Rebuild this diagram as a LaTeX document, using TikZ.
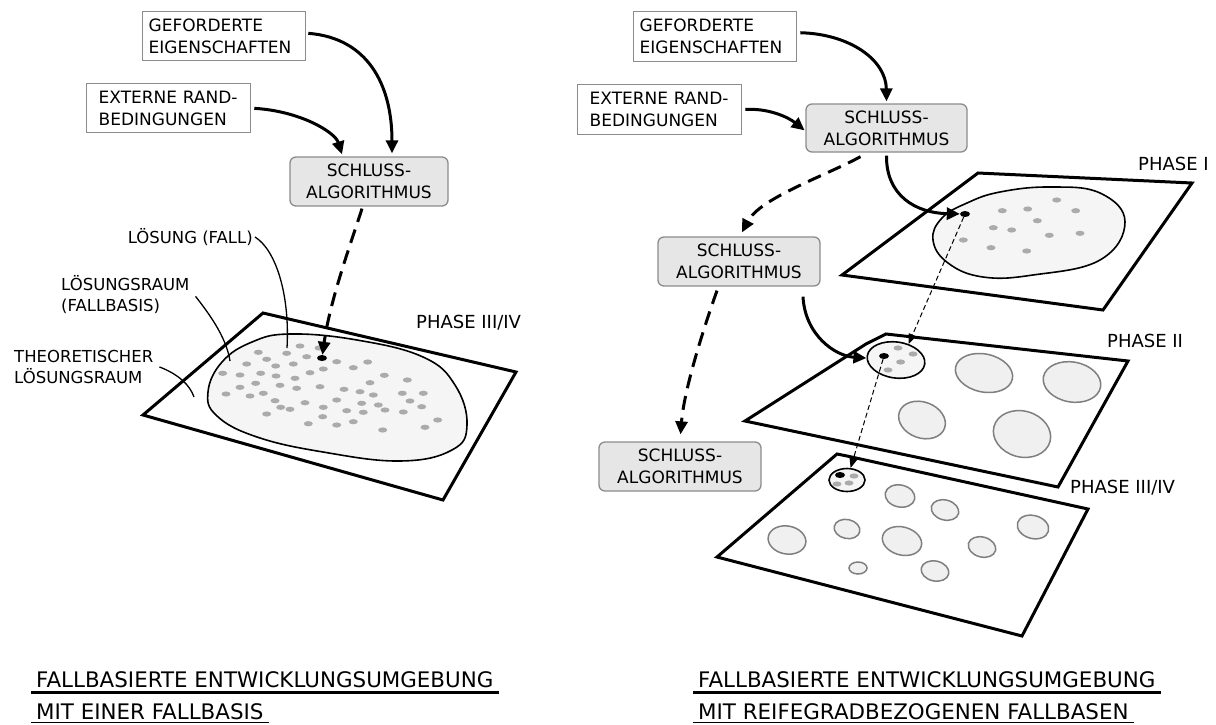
\documentclass[tikz,border=0pt]{standalone}
\usepackage{fontspec}
\setmainfont{DejaVu Sans}
\usetikzlibrary{arrows.meta,shapes.geometric}

\definecolor{boxline}{HTML}{8C8C8C}
\definecolor{algofill}{HTML}{E6E6E6}
\definecolor{spacefill}{HTML}{F5F5F5}
\definecolor{casedot}{HTML}{ABABAB}
\definecolor{subline}{HTML}{7F7F7F}
\definecolor{subfill}{HTML}{F0F0F0}

\tikzset{
  inbox/.style={draw=boxline, line width=1.3pt, fill=white, align=left,
    font=\fontsize{17}{22}\selectfont, minimum height=49pt, inner ysep=0pt},
  algo/.style={draw=boxline, line width=1.3pt, fill=algofill, rounded corners=6pt,
    align=center, font=\fontsize{17}{22}\selectfont, minimum width=161pt,
    minimum height=49pt, inner sep=0pt},
  lbltext/.style={align=left, font=\fontsize{16.5}{21}\selectfont, inner sep=0pt},
  phasetext/.style={font=\fontsize{18}{22}\selectfont, inner sep=0pt},
  headline/.style={font=\fontsize{21.4}{26}\selectfont, inner xsep=5pt, inner ysep=0pt},
  sheet/.style={draw=black, line width=3pt, line join=miter, fill=white},
  spaceblob/.style={draw=black, line width=1.6pt, fill=spacefill},
  subspace/.style={draw=subline, line width=1.5pt, fill=subfill},
  subnode/.style={ellipse, draw=black, line width=1.6pt, fill=spacefill, inner sep=0pt},
  hitdot/.style={ellipse, fill=black, inner sep=0pt, minimum width=10pt, minimum height=6pt},
  flowarrow/.style={line width=3pt, -{Triangle[length=13pt,width=12pt]}},
  derivearrow/.style={flowarrow, dash pattern=on 14pt off 8pt},
  tracearrow/.style={line width=1pt, dash pattern=on 5pt off 3pt, -{Triangle[length=10pt,width=8pt]}},
  leader/.style={line width=1.3pt},
  casemark/.style={fill=casedot},
}

\begin{document}
\begin{tikzpicture}[x=1pt,y=-1pt]
\useasboundingbox (0,0) rectangle (1216,724);
\fill[white] (0,0) rectangle (1216,724);

% ===================== left: one case base =====================
\node[inbox, text width=151pt, inner xsep=6pt, anchor=north west] (gefL) at (142,11) {GEFORDERTE\\EIGENSCHAFTEN};
\node[inbox, text width=140pt, inner xsep=12pt, anchor=north west] (extL) at (86,83) {EXTERNE RAND-\\BEDINGUNGEN};
\node[algo, minimum width=158pt] (algoL) at (369,181.5) {SCHLUSS-\\ALGORITHMUS};

% solution space sheet
\draw[sheet] (143,415) -- (263,313) -- (516,372) -- (443,500) -- cycle;
\draw[spaceblob] plot[smooth cycle, tension=0.7] coordinates {
  (208,392) (222,362) (252,342) (290,334) (357,340) (423,357) (455,385)
  (467,425) (452,450) (400,461) (323,452) (257,437) (217,416)};
\foreach \p in {(258.3,352.3),(286.7,353.3),(300,346),(306.7,356.7),(266.7,359.3),
  (246.7,364),(275.7,366),(293.3,364),(336.7,361.7),(353.3,367.7),(367.7,362),
  (222.7,373.3),(240,375),(260.7,373.3),(276,376),(295,378.3),(310,372.7),
  (323.3,369),(384.3,375.3),(407.3,380),(255.7,383.3),(240,387.3),(280,385.3),
  (296.7,388.3),(320,386.7),(370,382.7),(226,394),(250,396),(263.3,393.3),
  (275,400.7),(305,402.7),(280.7,407.3),(290,409.3),(323.3,407.3),(336.7,400),
  (344,389.3),(360,391.7),(373.3,395),(402.3,393.3),(423.3,393.3),(410,401),
  (421.7,406.7),(361.7,403.3),(378.3,405),(385,410),(346.7,410.7),(363.3,412.3),
  (403.3,412),(266.7,414),(322.7,416.7),(308.3,423.7),(336.7,425),(353.3,421.7),
  (382.7,430),(425,427.3),(437.7,420),(319,348)}
  \fill[casemark] \p ellipse [x radius=4.5pt, y radius=2.6pt];
\node[hitdot] (hitL) at (322,358) {};

\node[phasetext, anchor=base west] (phL) at (416,328) {PHASE III/IV};

% annotations
\node[lbltext, anchor=east] (lblCase) at (253,237) {LÖSUNG (FALL)};
\coordinate (caseEnd) at (287,348);
\draw[leader] ([xshift=2pt]lblCase.east) .. controls (276,250) and (290,295) .. (caseEnd);

\node[lbltext, anchor=north west] (lblBase) at (61,275) {LÖSUNGSRAUM\\(FALLBASIS)};
\coordinate (baseEnd) at (230,361);
\draw[leader] ([xshift=6pt,yshift=-2pt]lblBase.east) .. controls (206,310) and (226,335) .. (baseEnd);

\node[lbltext, anchor=north west] (lblTheo) at (14,350) {THEORETISCHER\\LÖSUNGSRAUM};
\coordinate (theoEnd) at (194,397);
\draw[leader] ([xshift=6pt,yshift=0pt]lblTheo.east) .. controls (178,374) and (190,385) .. (theoEnd);

% flows into and out of the inference step
\draw[flowarrow, shorten <=2pt] ([yshift=3pt]gefL.east) .. controls (368,38) and (392,85) .. ([xshift=23pt,yshift=3pt]algoL.north);
\draw[flowarrow, shorten <=3pt] (extL.east) .. controls (300,111) and (335,132) .. ([xshift=-27pt,yshift=2pt]algoL.north);
\draw[derivearrow] ([xshift=-7pt,yshift=-2pt]algoL.south) .. controls (352,240) and (330,300) .. (hitL);

% ===================== right: maturity-based case bases =====================
\node[inbox, text width=151pt, inner xsep=6pt, anchor=north west, minimum height=50pt] (gefR) at (633,11) {GEFORDERTE\\EIGENSCHAFTEN};
\node[inbox, text width=140pt, inner xsep=12pt, anchor=north west, minimum height=50pt] (extR) at (577,84) {EXTERNE RAND-\\BEDINGUNGEN};
\node[algo, minimum height=48pt] (algoT) at (886.5,128) {SCHLUSS-\\ALGORITHMUS};
\node[algo, minimum width=162pt] (algoM) at (739,261.5) {SCHLUSS-\\ALGORITHMUS};
\node[algo, minimum width=162pt] (algoB) at (680,466.5) {SCHLUSS-\\ALGORITHMUS};

% phase I
\draw[sheet] (842,275) -- (978,173) -- (1192,183) -- (1103,310) -- cycle;
\draw[spaceblob] plot[smooth cycle, tension=0.7] coordinates {
  (933,240) (942,218) (967,203) (1000,192) (1050,187) (1100,193) (1125,222)
  (1100,260) (1033,275) (983,277) (948,263)};
\foreach \p in {(1056.7,200),(1002.3,210.7),(1027.7,209),(1075.7,210.7),(1037.3,220.7),
  (993.3,227.7),(1011.7,230),(1049.3,235.3),(1080,233.3),(963.3,240),(991,247.7),(1026.7,251)}
  \fill[casemark] \p ellipse [x radius=4.5pt, y radius=2.6pt];
\node[hitdot] (hitI) at (965,214) {};
\node[phasetext, anchor=base west] (phI) at (1138,170) {PHASE I};

% phase II
\draw[sheet] (745,421) -- (866,344) -- (886,334) -- (1128,361) -- (1058,487) -- cycle;
\node[subnode, minimum width=58pt, minimum height=36pt, rotate=-8] (blobII) at (896,360) {};
\foreach \p in {(898,348),(913,354),(900.6,362),(888,370)}
  \fill[casemark] \p ellipse [x radius=4.5pt, y radius=2.6pt];
\node[hitdot] (hitII) at (884,356) {};
\draw[subspace, rotate around={-12:(984,373)}] (984,373) ellipse [x radius=29pt, y radius=19pt];
\draw[subspace, rotate around={-10:(1072,382)}] (1072,382) ellipse [x radius=29pt, y radius=20pt];
\draw[subspace, rotate around={-20:(922,420)}] (922,420) ellipse [x radius=24pt, y radius=18pt];
\draw[subspace, rotate around={-15:(1022,434)}] (1022,434) ellipse [x radius=29pt, y radius=23pt];
\node[phasetext, anchor=base west] (phII) at (1107,347) {PHASE II};

% phase III/IV
\draw[sheet] (717,557) -- (837,454) -- (847,456) -- (1088,509) -- (1022,636) -- cycle;
\node[subnode, minimum width=36pt, minimum height=23pt] (blobIII) at (847,480) {};
\foreach \p in {(854,476),(837,484),(849,483)}
  \fill[casemark] \p ellipse [x radius=4.5pt, y radius=2.6pt];
\node[hitdot] (hitIII) at (840,475) {};
\draw[subspace, rotate around={-12:(900,496)}] (900,496) ellipse [x radius=15pt, y radius=11pt];
\draw[subspace, rotate around={-15:(945,510)}] (945,510) ellipse [x radius=14pt, y radius=10pt];
\draw[subspace, rotate around={-15:(1033,527)}] (1033,527) ellipse [x radius=16pt, y radius=11.5pt];
\draw[subspace, rotate around={-10:(787,540)}] (787,540) ellipse [x radius=19pt, y radius=14pt];
\draw[subspace, rotate around={-12:(847,529)}] (847,529) ellipse [x radius=13pt, y radius=9.5pt];
\draw[subspace, rotate around={-15:(902,541)}] (902,541) ellipse [x radius=20pt, y radius=14pt];
\draw[subspace, rotate around={-15:(982,547)}] (982,547) ellipse [x radius=14pt, y radius=10pt];
\draw[subspace] (858,568) ellipse [x radius=9pt, y radius=6pt];
\draw[subspace, rotate around={-12:(935,571)}] (935,571) ellipse [x radius=14pt, y radius=10pt];
\node[phasetext, anchor=base west] (phIII) at (1070,493) {PHASE III/IV};

% flows
\draw[flowarrow, shorten <=3pt] ([yshift=4pt]gefR.east) .. controls (850,34) and (886,60) .. ([yshift=2pt]algoT.north);
\draw[flowarrow, shorten <=3pt, shorten >=1pt] (extR.east) .. controls (768,108) and (788,117) .. ([yshift=-3pt]algoT.west);
\draw[derivearrow] ([xshift=-26pt,yshift=-4pt]algoT.south) .. controls (825,176) and (760,198) .. ([xshift=3pt,yshift=4pt]algoM.north);
\draw[flowarrow] ([yshift=-3pt]algoT.south) .. controls (886,195) and (915,213) .. (hitI);
\draw[flowarrow] ([xshift=64pt,yshift=-10pt]algoM.south) .. controls (805,335) and (835,356) .. (blobII);
\draw[derivearrow, shorten >=7pt] ([xshift=-22pt,yshift=-4pt]algoM.south) .. controls (703,330) and (684,390) .. (algoB.north);
\draw[tracearrow] (hitI) -- (blobII.60);
\draw[tracearrow] (hitII) -- (blobIII);

% ===================== captions =====================
\node[headline, anchor=base west] (t1L) at (31,687) {FALLBASIERTE ENTWICKLUNGSUMGEBUNG};
\draw[line width=3pt] ([yshift=-5pt]t1L.base west) -- ([yshift=-5pt]t1L.base east);
\node[headline, anchor=base west] (t2L) at (31,719.5) {MIT EINER FALLBASIS};
\draw[line width=1.6pt] ([yshift=-3pt]t2L.base west) -- ([yshift=-3pt]t2L.base east);

\node[headline, anchor=base west] (t1R) at (693,687) {FALLBASIERTE ENTWICKLUNGSUMGEBUNG};
\draw[line width=3pt] ([yshift=-5pt]t1R.base west) -- ([yshift=-5pt]t1R.base east);
\node[headline, anchor=base west] (t2R) at (693,719.5) {MIT REIFEGRADBEZOGENEN FALLBASEN};
\draw[line width=1.6pt] ([yshift=-3pt]t2R.base west) -- ([yshift=-3pt]t2R.base east);
\end{tikzpicture}
\end{document}
